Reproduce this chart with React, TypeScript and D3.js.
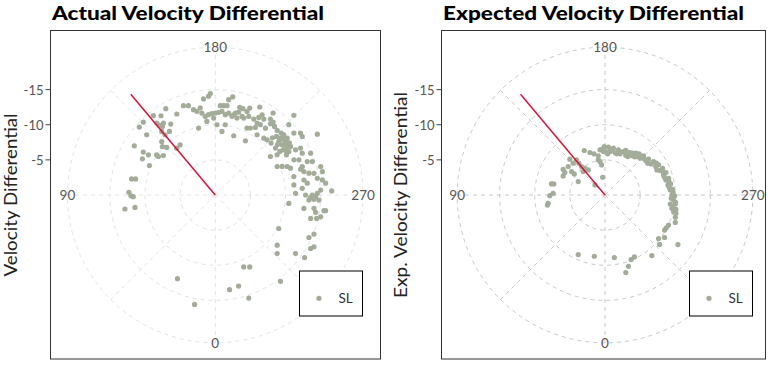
import React from 'react';
import * as d3 from 'd3';

// pitch + reference arm line
const pitchType = 'SL';
const armAngle = 140;
const radialMax = -18.7;
const radialTicks = [-5, -10, -15];
const thetaLabels = [0, 90, 180, 270];
const thetaGrid = [0, 45, 90, 135, 180, 225, 270, 315];

// [angle (deg), velocity differential]
const actualSL: [number, number][] = [
  [177.2, -14.45], [176.1, -14.08], [173.0, -13.77], [160.4, -13.5], [163.3, -13.27], [150.2, -14.16],
  [142.0, -14.32], [145.6, -13.67], [135.4, -14.58], [131.8, -14.5], [131.3, -12.99], [140.9, -13.2],
  [144.2, -12.62], [147.9, -11.92], [139.9, -11.83], [142.4, -12.32], [121.3, -13.48], [120.8, -11.92],
  [116.4, -11.58], [121.0, -11.1], [114.1, -10.27], [124.4, -10.1], [127.3, -9.28], [132.5, -10.21],
  [134.4, -9.67], [135, -10.77], [145, -8.72], [140.6, -8.63], [100.9, -12.12], [101.4, -11.56],
  [91.8, -12.29], [89.5, -12.0], [88.8, -11.67], [81.2, -13.01], [81.2, -11.56],
  [154.6, -12.76], [141.2, -12.7], [144.2, -11.15], [140.2, -11.16], [124.1, -9.77],
  [170.2, -12.57], [188.0, -13.7], [190.1, -14.17], [183.2, -12.73], [185.3, -12.77], [187.5, -12.82],
  [195.6, -12.95], [197.8, -12.9], [201.6, -13.32], [206.8, -14.03], [170.7, -11.82], [172.7, -11.28],
  [175.2, -11.47], [177.6, -11.58], [180, -11.67], [182.3, -11.77], [184.6, -11.94], [187.1, -11.52],
  [189.3, -11.82], [192.0, -11.44], [193.8, -12.01], [195.8, -12.27], [198.8, -11.82], [200.3, -11.68],
  [200.8, -12.73], [206.9, -12.12], [209.3, -12.66], [210.3, -13.23], [212.6, -12.83], [215.2, -14.28],
  [216.0, -13.36], [218.4, -13.25], [224.6, -15.93], [167.6, -12.19], [165.7, -12.53], [166.0, -9.82],
  [173.5, -10.54], [181.4, -10.0], [186.0, -9.1], [188.1, -10.1], [197.3, -8.83], [209.1, -8.83],
  [205.4, -10.54], [207.7, -10.76], [210.7, -11.19], [214.8, -10.44], [212.7, -11.89], [216.9, -11.9],
  [217.8, -12.83], [220.8, -12.9], [223.8, -12.73], [226.3, -14.48], [231.8, -14.24], [234.0, -15.0],
  [236.1, -14.92], [239.2, -16.91],
  [226.3, -12.06], [228.9, -12.32], [228.7, -12.99], [229.9, -11.83], [233.1, -11.9], [232.7, -12.57],
  [236.0, -12.35], [236.4, -11.61], [239.4, -12.17], [237.2, -12.75], [240.6, -13.11], [241.2, -13.85],
  [244.3, -13.74], [237.0, -10.5], [235.1, -9.58], [220.5, -10.64], [223.2, -10.78], [227.1, -10.85],
  [232.1, -10.86], [236.0, -11.08], [240.6, -11.64], [226.8, -12.87], [231.7, -13.05],
  [230.5, -12.5], [234.5, -12.2], [238.2, -11.9], [231.0, -11.4], [234.8, -12.9], [225.0, -11.5],
  [245.3, -9.7], [246.9, -10.35], [248.4, -11.01], [250.4, -11.37], [245.9, -12.26], [247.2, -12.91],
  [251.9, -13.03], [255.2, -13.05], [250.0, -13.93], [246.3, -14.82], [251.0, -14.61], [254.9, -15.54],
  [257.7, -15.6], [256.9, -13.69], [257.6, -14.38], [256.8, -11.49], [262.7, -11.28], [268.8, -11.43],
  [265.6, -12.42], [270, -12.86], [271.4, -13.57], [272.5, -14.06], [269.1, -14.52], [267.3, -15.02],
  [263.9, -15.8], [268.0, -16.58], [262.0, -15.39], [273.1, -13.35], [271.0, -14.29], [276.5, -10.54],
  [278.6, -12.76], [277.7, -14.18], [279.8, -14.5], [283.8, -13.98], [283.0, -14.81], [281.7, -15.32],
  [278.1, -15.87], [297.8, -10.22], [294.4, -14.64], [291.6, -15.11], [299.3, -15.56], [297.7, -15.87],
  [309.0, -11.34], [313.4, -12.13], [306.1, -14.14], [305.0, -15.52], [338.4, -11.01], [334.4, -11.35],
  [322.9, -15.4], [345.6, -13.38], [351.4, -13.63], [342.0, -15.42], [24.3, -13.07], [10.7, -15.85],
  [253.2, -12.69], [262.7, -13.2], [260.4, -12.8], [260.7, -14.72], [272.8, -14.78], [270, -13.81],
  [278.2, -15.64], [192.9, -11.72], [195.8, -11.38], [203.1, -12.16], [178.8, -10.95], [210.2, -11.84],
];

const expectedSL: [number, number][] = [
  [176.7, -6.53], [179.2, -6.9], [180.9, -6.19], [184.0, -6.83], [186.6, -6.23], [190.1, -6.77],
  [193.3, -6.21], [196.5, -6.7], [200.1, -6.24], [202.9, -6.72], [207.5, -6.39], [209.6, -6.95],
  [215.0, -6.8], [216.4, -7.39], [219.7, -7.61], [223.7, -7.24], [224.5, -7.81], [229.8, -7.6],
  [230.5, -8.02], [236.0, -7.92], [235.4, -8.39], [240.8, -8.29], [240.6, -8.74], [246.1, -8.59],
  [245.1, -9.03], [251.1, -8.81], [249.8, -9.24], [256.1, -8.93], [255.3, -9.36], [260.9, -9.07],
  [260.4, -9.47], [265.6, -9.31], [265.2, -9.65], [270, -9.52], [270.8, -9.9], [274.2, -9.79],
  [277.9, -9.37], [277.3, -10.08], [281.3, -9.71], [281.5, -10.3], [283.7, -10.05], [284.5, -10.43],
  [291.3, -10.74], [295.3, -10.01], [298.2, -9.89], [300.5, -9.84], [173.7, -6.47], [170.3, -5.65],
  [171.5, -4.81], [173.7, -4.31], [172.5, -2.55], [135, -2.02], [155.0, -6.99], [160.5, -6.42],
  [165.0, -6.06], [116.6, -4.26], [124.4, -5.31], [121.6, -6.99], [119.2, -6.54], [114.5, -6.54],
  [135.5, -7.14], [135, -6.4], [141, -6.43], [140.6, -5.85], [140.5, -5.24], [143.1, -4.76],
  [146.3, -4.29], [137.1, -4.55], [127.7, -6.62], [125, -5.81], [101.7, -7.78], [102.2, -7.45],
  [91.8, -7.38], [89.3, -7.86], [81.6, -8.18], [80.1, -8.31], [309.1, -9.82], [305.5, -10.41],
  [312.2, -10.48], [304.2, -12.55], [322.3, -10.9], [334.6, -9.76], [338.0, -9.91], [341.8, -10.68],
  [345.0, -11.43], [351.5, -9.0], [9.9, -8.85], [24.2, -9.29], [187.6, -6.49], [195.9, -6.09],
  [210.6, -6.36], [220.4, -7.2], [233.4, -7.59], [244.2, -8.2], [253.4, -8.84], [263.2, -9.21],
  [272.9, -9.44], [279.3, -9.75], [183.7, -5.87], [169.2, -5.09],
  [205.0, -7.0], [212.5, -7.1], [218.0, -6.9], [227.0, -7.6], [238.0, -8.6], [248.0, -8.9],
  [258.5, -9.3], [268.0, -9.7], [276.0, -10.1], [287.5, -10.5], [178.0, -6.2], [198.5, -6.45],
];

const FONT = 'Lato, "Open Sans", sans-serif';
const pointColor = '#a2ac98';
const armColor = '#d4143a';

interface PanelProps {
  title: string;
  titleWidth: number;
  yTitle: string;
  yTitleWidth: number;
  data: [number, number][];
  left: number;
  right: number;
  cx: number;
  yTitleX: number;
  gridColor: string;
  legendX: number;
}

function PolarPanel({ title, titleWidth, yTitle, yTitleWidth, data, left, right, cx, yTitleX, gridColor, legendX }: PanelProps) {
  const top = 30.5;
  const bottom = 359;
  const cy = 195;
  const size = bottom - top;

  const r = d3.scaleLinear().domain([0, radialMax]).range([0, 0.4 * size]);
  const outer = 0.45 * size;
  const theta = d3.scaleLinear().domain([0, 360]).range([Math.PI, 3 * Math.PI]);
  const pos = (deg: number, v: number) => {
    const [x, y] = d3.pointRadial(theta(deg), r(v));
    return [cx + x, cy + y];
  };
  const spoke = (deg: number, rad: number) => {
    const [x, y] = d3.pointRadial(theta(deg), rad);
    return [cx + x, cy + y];
  };

  const arm = d3.line<[number, number]>()
    .x((d) => pos(d[0], d[1])[0])
    .y((d) => pos(d[0], d[1])[1]);

  return (
    <g>
      <text x={left + 1.5} y={20} fontFamily={FONT} fontWeight={900} fontSize={19} fill="#000"
        textLength={titleWidth} lengthAdjust="spacingAndGlyphs">
        {title}
      </text>

      {/* grid */}
      <g fill="none" stroke={gridColor} strokeWidth={1} strokeDasharray="4,4">
        {thetaGrid.map((t) => {
          const [x2, y2] = spoke(t, outer);
          return <line key={t} x1={cx} y1={cy} x2={x2} y2={y2} />;
        })}
        {[...radialTicks.map((v) => r(v)), outer].map((rad, i) => (
          <circle key={i} cx={cx} cy={cy} r={rad} />
        ))}
      </g>

      {/* theta labels */}
      {thetaLabels.map((t) => {
        const [x, y] = spoke(t, outer);
        return (
          <text key={t} x={x} y={y} textAnchor="middle" dominantBaseline="central"
            fontFamily={FONT} fontSize={13.5} fill="#555">
            {t}
          </text>
        );
      })}

      {/* points */}
      {data.map((d, i) => {
        const [x, y] = pos(d[0], d[1]);
        return <circle key={i} cx={x} cy={y} r={2.6} fill={pointColor} />;
      })}

      <path d={arm([[armAngle, 0], [armAngle, radialMax]]) as string}
        fill="none" stroke={armColor} strokeWidth={1.5} />

      {/* radial axis */}
      {radialTicks.map((v) => {
        const y = cy - r(v);
        return (
          <g key={v}>
            <line x1={left - 5} x2={left} y1={y} y2={y} stroke="#444" strokeWidth={1} />
            <text x={left - 7} y={y} textAnchor="end" dominantBaseline="central"
              fontFamily={FONT} fontSize={13} fill="#555">
              {v}
            </text>
          </g>
        );
      })}

      <text transform={`translate(${yTitleX},${cy}) rotate(-90)`} textAnchor="middle"
        fontFamily={FONT} fontSize={16.5} fill="#222"
        textLength={yTitleWidth} lengthAdjust="spacingAndGlyphs">
        {yTitle}
      </text>

      {/* legend */}
      <rect x={legendX} y={271} width={63} height={45} fill="#fff" stroke="#000" strokeWidth={1} />
      <circle cx={legendX + 19.5} cy={298.3} r={2.6} fill={pointColor} />
      <text x={legendX + 39} y={298.3} dominantBaseline="central" fontFamily={FONT}
        fontSize={13.5} fill="#333">
        {pitchType}
      </text>

      <rect x={left} y={top} width={right - left} height={bottom - top}
        fill="none" stroke="#333" strokeWidth={1} />
    </g>
  );
}

export default function App() {
  return (
    <svg width={775} height={366} style={{ position: 'absolute', left: 0, top: 0, background: '#fff' }}>
      <rect width={775} height={366} fill="#fff" />
      <PolarPanel title="Actual Velocity Differential" titleWidth={272}
        yTitle="Velocity Differential" yTitleWidth={163} data={actualSL}
        left={50.5} right={380.5} cx={215.25} yTitleX={17} gridColor="#e2e2e2" legendX={299.5} />
      <PolarPanel title="Expected Velocity Differential" titleWidth={301}
        yTitle="Exp. Velocity Differential" yTitleWidth={206} data={expectedSL}
        left={441.5} right={765.5} cx={605} yTitleX={407} gridColor="#c8c8c8" legendX={689.5} />
    </svg>
  );
}
